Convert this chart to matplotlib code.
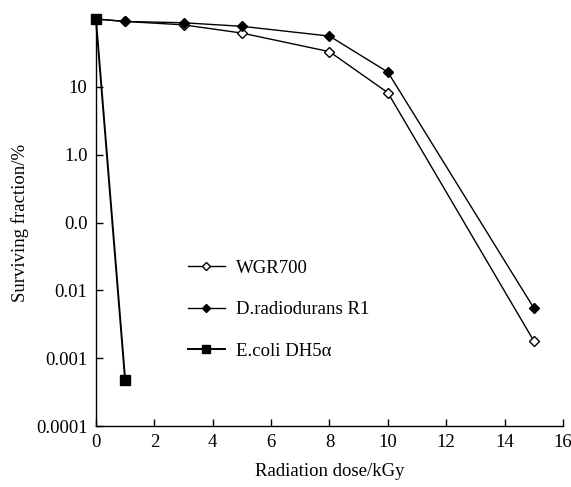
import matplotlib as mpl
mpl.use("Agg")
import matplotlib.pyplot as plt
import numpy as np

mpl.rcParams.update({
    "font.family": "serif",
    "font.serif": ["Liberation Serif", "DejaVu Serif"],
    "font.size": 13.5,
    "axes.spines.right": False,
    "axes.spines.top": False,
    "axes.linewidth": 1.0,
    "xtick.direction": "in",
    "ytick.direction": "in",
})

# Dose (kGy) and surviving fraction (%)
dose_wgr = [0, 1, 3, 5, 8, 10, 15]
wgr700 = [100, 92, 82, 62, 33, 8.2, 0.0018]
dose_drad = [0, 1, 3, 5, 8, 10, 15]
d_radiodurans = [100, 92, 88, 78, 56, 16.5, 0.0055]
dose_ecoli = [0, 1]
e_coli = [100, 0.00048]

yticks = [0.0001, 0.001, 0.01, 0.1, 1, 10]
yticklabels = ["0.0001", "0.001", "0.01", "0.0", "1.0", "10"]

fig = plt.figure(figsize=(5.71, 4.87), dpi=100)
ax = fig.add_axes([0.168, 0.125, 0.818, 0.836])

ax.plot(dose_wgr, wgr700, color="black", lw=1.0, marker="D", ms=5,
        mfc="white", mec="black", mew=1.0, label="WGR700", zorder=3, clip_on=False)
ax.plot(dose_drad, d_radiodurans, color="black", lw=1.0, marker="D", ms=5.5,
        mfc="black", mec="black", label="D.radiodurans R1", zorder=4, clip_on=False)
ax.plot(dose_ecoli, e_coli, color="black", lw=1.4, marker="s", ms=7,
        mfc="black", mec="black", label="E.coli DH5α", zorder=5, clip_on=False)

ax.set_yscale("log")
ax.set_ylim(1e-4, 100)
ax.set_xlim(0, 16)
ax.set_xticks(range(0, 17, 2))
ax.set_yticks(yticks)
ax.set_yticklabels(yticklabels)
ax.yaxis.set_minor_locator(mpl.ticker.NullLocator())
ax.tick_params(length=5, width=1.0, pad=6)
ax.set_xlabel("Radiation dose/kGy", labelpad=8)
ax.set_ylabel("Surviving fraction/%", labelpad=5)

leg = ax.legend(loc="upper left", bbox_to_anchor=(0.16, 0.45), frameon=False,
                handlelength=2.0, handletextpad=0.6, labelspacing=1.3,
                fontsize=13.5, markerscale=0.8)

fig.savefig("out.png", dpi=100)
